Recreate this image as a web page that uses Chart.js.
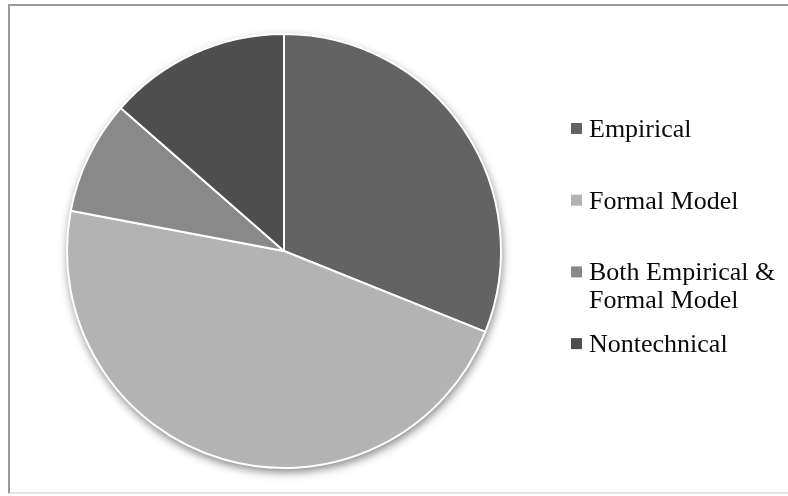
<!DOCTYPE html>
<html>
<head>
<meta charset="utf-8">
<title>Paper types</title>
<script src="https://cdn.jsdelivr.net/npm/chart.js@4/dist/chart.umd.min.js"></script>
<style>
  html, body { margin: 0; padding: 0; background: #fff; }
  body { width: 788px; height: 496px; overflow: hidden; position: relative; }
  /* outer frame, runs past the right edge */
  .frame {
    position: absolute; left: 8px; top: 4px; width: 800px; height: 490px;
    border: 2px solid #9a9a9a; border-right: none; box-sizing: border-box;
    border-bottom-color: #e6e6e6;
  }
  .wrap { position: absolute; left: 0; top: 0; width: 788px; height: 496px; }
</style>
</head>
<body>
<div class="frame"></div>
<div class="wrap"><canvas id="pie" width="788" height="496"></canvas></div>
<script>
// ---- Data ----
const categories = ['Empirical', 'Formal Model', ['Both Empirical &', 'Formal Model'], 'Nontechnical'];
const counts = [55, 83, 15, 24];
const sliceColors = ['#636363', '#b3b3b3', '#898989', '#4e4e4e'];

// soft drop shadow behind the whole pie
const pieShadow = {
  id: 'pieShadow',
  beforeDatasetsDraw(chart) {
    const arc = chart.getDatasetMeta(0).data[0];
    if (!arc) return;
    const ctx = chart.ctx;
    ctx.save();
    ctx.shadowColor = 'rgba(0, 0, 0, 0.5)';
    ctx.shadowBlur = 10;
    ctx.shadowOffsetX = 1;
    ctx.shadowOffsetY = 4;
    ctx.fillStyle = '#fff';
    ctx.beginPath();
    ctx.arc(arc.x, arc.y, arc.outerRadius, 0, Math.PI * 2);
    ctx.fill();
    ctx.restore();
  }
};

// legend on the right, one square + serif label per slice,
// first lines evenly spaced
const sideLegend = {
  id: 'sideLegend',
  afterDraw(chart, args, opts) {
    const ctx = chart.ctx;
    const labels = chart.data.labels;
    const colors = chart.data.datasets[0].backgroundColor;
    ctx.save();
    ctx.font = opts.font;
    ctx.textBaseline = 'alphabetic';
    labels.forEach((label, i) => {
      const lines = Array.isArray(label) ? label : [label];
      const y = opts.top + i * opts.step;
      ctx.fillStyle = colors[i];
      ctx.fillRect(opts.left, y - 14, 11, 11);
      ctx.fillStyle = '#0a0a0a';
      lines.forEach((line, j) => {
        ctx.fillText(line, opts.left + 18, y + j * opts.lineHeight);
      });
    });
    ctx.restore();
  }
};

const ctx = document.getElementById('pie').getContext('2d');
new Chart(ctx, {
  type: 'pie',
  data: {
    labels: categories,
    datasets: [{
      data: counts,
      backgroundColor: sliceColors,
      borderColor: '#ffffff',
      borderWidth: 2
    }]
  },
  options: {
    responsive: false,
    animation: false,
    layout: { padding: { left: 66, right: 286, top: 33, bottom: 27 } },
    plugins: {
      legend: { display: false },
      tooltip: { enabled: false },
      sideLegend: {
        left: 571,
        top: 137,
        step: 71.7,
        lineHeight: 28,
        font: "26px 'Liberation Serif', 'Times New Roman', serif"
      }
    }
  },
  plugins: [pieShadow, sideLegend]
});
</script>
</body>
</html>
